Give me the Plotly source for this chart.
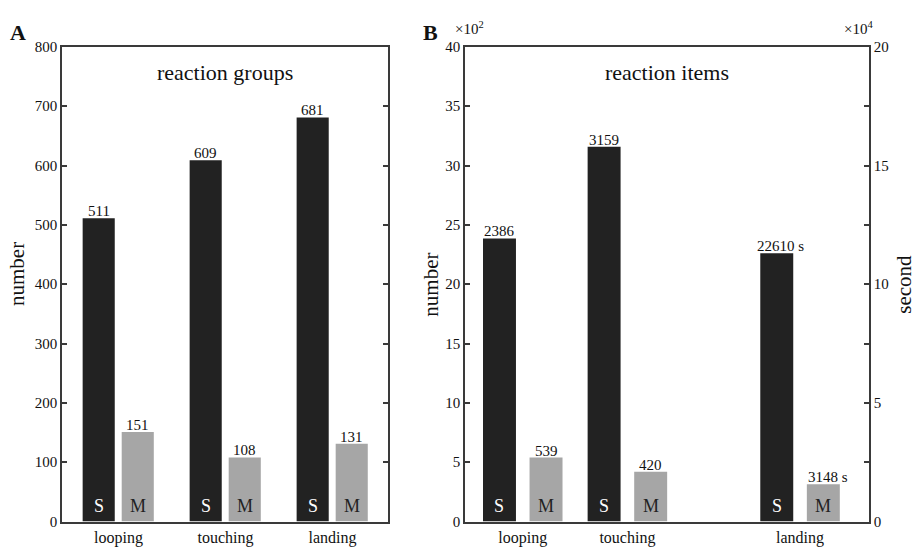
import plotly.graph_objects as go

# ---------------- data ----------------
categories_a = ["looping", "touching", "landing"]
single_a = [511, 609, 681]
multi_a = [151, 108, 131]

categories_b = ["looping", "touching", "landing"]
positions_b = [0, 1, 2.65]          # category slots on panel B axis
single_b_number = [2386, 3159]      # looping, touching (left axis, number)
multi_b_number = [539, 420]
single_b_second = [22610]           # landing (right axis, seconds)
multi_b_second = [3148]

left_ticks_a = list(range(0, 801, 100))
left_ticks_b = list(range(0, 4001, 500))
left_text_b = [str(v // 100) for v in left_ticks_b]
right_ticks_b = list(range(0, 40001, 10000))
right_text_b = [str(v // 2000) for v in right_ticks_b]
right_minor_b = list(range(5000, 40000, 10000))

# ---------------- style ----------------
W, H = 917, 549
FONT = "Liberation Serif, Times New Roman, serif"
DARK = "#222222"
GREY = "#a6a6a6"
LINE = "#3a3a3a"

def px(x):
    return x / W

def py(y):
    return 1 - y / H

xa_dom = [px(62), px(388)]
xb_dom = [px(465), px(869)]
y_dom = [py(529), py(40)]

fig = go.Figure()

# panel A bars
idx_a = list(range(len(categories_a)))
fig.add_trace(go.Bar(x=idx_a, y=single_a, offset=-0.335, width=0.30,
                     marker=dict(color=DARK, line=dict(width=0)),
                     xaxis="x", yaxis="y", showlegend=False))
fig.add_trace(go.Bar(x=idx_a, y=multi_a, offset=0.03, width=0.30,
                     marker=dict(color=GREY, line=dict(width=0)),
                     xaxis="x", yaxis="y", showlegend=False))

# panel B bars (number on left axis)
pos_num = positions_b[:2]
pos_sec = positions_b[2:]
OFF_S, OFF_M, WB = -0.38, 0.065, 0.315
fig.add_trace(go.Bar(x=pos_num, y=single_b_number, offset=OFF_S, width=WB,
                     marker=dict(color=DARK, line=dict(width=0)),
                     xaxis="x2", yaxis="y2", showlegend=False))
fig.add_trace(go.Bar(x=pos_num, y=multi_b_number, offset=OFF_M, width=WB,
                     marker=dict(color=GREY, line=dict(width=0)),
                     xaxis="x2", yaxis="y2", showlegend=False))
# panel B bars (seconds on right axis)
fig.add_trace(go.Bar(x=pos_sec, y=single_b_second, offset=OFF_S, width=WB,
                     marker=dict(color=DARK, line=dict(width=0)),
                     xaxis="x2", yaxis="y3", showlegend=False))
fig.add_trace(go.Bar(x=pos_sec, y=multi_b_second, offset=OFF_M, width=WB,
                     marker=dict(color=GREY, line=dict(width=0)),
                     xaxis="x2", yaxis="y3", showlegend=False))

ann = []

def value_label(x, y, text, xr, yr, xshift=0):
    ann.append(dict(x=x, y=y, xref=xr, yref=yr, text=text, showarrow=False,
                    yanchor="bottom", xanchor="center", yshift=-3, xshift=xshift,
                    font=dict(family=FONT, size=15, color="#111")))

def sm_label(x, text, xr, yr, color):
    ann.append(dict(x=x, y=0, xref=xr, yref=yr, text=text, showarrow=False,
                    yanchor="bottom", xanchor="center", yshift=4,
                    font=dict(family=FONT, size=18, color=color)))

for i, (s, m) in enumerate(zip(single_a, multi_a)):
    cs, cm = i - 0.185, i + 0.18
    value_label(cs, s, str(s), "x", "y")
    value_label(cm, m, str(m), "x", "y")
    sm_label(cs, "S", "x", "y", "white")
    sm_label(cm, "M", "x", "y", DARK)

cS, cM = OFF_S + WB / 2, OFF_M + WB / 2
for p, s, m in zip(pos_num, single_b_number, multi_b_number):
    value_label(p + cS, s, str(s), "x2", "y2")
    value_label(p + cM, m, str(m), "x2", "y2")
    sm_label(p + cS, "S", "x2", "y2", "white")
    sm_label(p + cM, "M", "x2", "y2", DARK)
for p, s, m in zip(pos_sec, single_b_second, multi_b_second):
    value_label(p + cS, s, f"{s} s", "x2", "y3", xshift=4)
    value_label(p + cM, m, f"{m} s", "x2", "y3", xshift=5)
    sm_label(p + cS, "S", "x2", "y3", "white")
    sm_label(p + cM, "M", "x2", "y3", DARK)

# titles and labels
def paper_text(x, y, text, size, bold=False, angle=0, xanchor="center"):
    ann.append(dict(x=px(x), y=py(y), xref="paper", yref="paper", text=text,
                    showarrow=False, xanchor=xanchor, yanchor="middle",
                    textangle=angle,
                    font=dict(family=FONT, size=size, color="#111",
                              weight="bold" if bold else "normal")))

paper_text(225, 66, "reaction groups", 22)
paper_text(667, 66, "reaction items", 22)
paper_text(18, 25, "A", 22, bold=True)
paper_text(430, 25, "B", 22, bold=True)
paper_text(17, 274, "number", 21, angle=-90)
paper_text(431, 285, "number", 21, angle=-90)
paper_text(904, 285, "second", 21, angle=-90)
paper_text(470, 21, "×10<sup>2</sup>", 15)
paper_text(858, 21, "×10<sup>4</sup>", 15)

axis_common = dict(showline=True, linecolor=LINE, linewidth=1.5,
                   showgrid=False, zeroline=False,
                   tickfont=dict(family=FONT, size=15, color="#111"))
xfont = dict(family=FONT, size=16, color="#111")

fig.update_layout(
    width=W, height=H, autosize=False,
    margin=dict(l=0, r=0, t=0, b=0),
    paper_bgcolor="white", plot_bgcolor="white",
    barmode="overlay",
    annotations=ann,
    xaxis=dict(domain=xa_dom, range=[-0.528, 2.519], mirror=True, ticks="",
               tickmode="array", tickvals=idx_a, ticktext=categories_a,
               anchor="y", **{**axis_common, "tickfont": xfont}),
    yaxis=dict(domain=y_dom, range=[0, 800], mirror="ticks", ticks="inside",
               ticklen=5, tickwidth=1.5, tickcolor=LINE,
               tickmode="array", tickvals=left_ticks_a,
               anchor="x", **axis_common),
    xaxis2=dict(domain=xb_dom, range=[-0.552, 3.309], mirror=True, ticks="",
                tickmode="array", tickvals=positions_b, ticktext=categories_b,
                anchor="y2", **{**axis_common, "tickfont": xfont}),
    yaxis2=dict(domain=y_dom, range=[0, 4000], ticks="inside",
                ticklen=5, tickwidth=1.5, tickcolor=LINE,
                tickmode="array", tickvals=left_ticks_b, ticktext=left_text_b,
                anchor="x2", **axis_common),
    yaxis3=dict(domain=y_dom, range=[0, 40000], ticks="inside", side="right",
                overlaying="y2", anchor="x2",
                ticklen=5, tickwidth=1.5, tickcolor=LINE,
                tickmode="array", tickvals=right_ticks_b, ticktext=right_text_b,
                minor=dict(tickmode="array", tickvals=right_minor_b, ticks="inside",
                           ticklen=5, tickwidth=1.5, tickcolor=LINE, showgrid=False),
                **axis_common),
)

post = (
    "document.body.style.margin='0';document.body.style.overflow='hidden';"
)
fig.write_html("out.html", post_script=post)
